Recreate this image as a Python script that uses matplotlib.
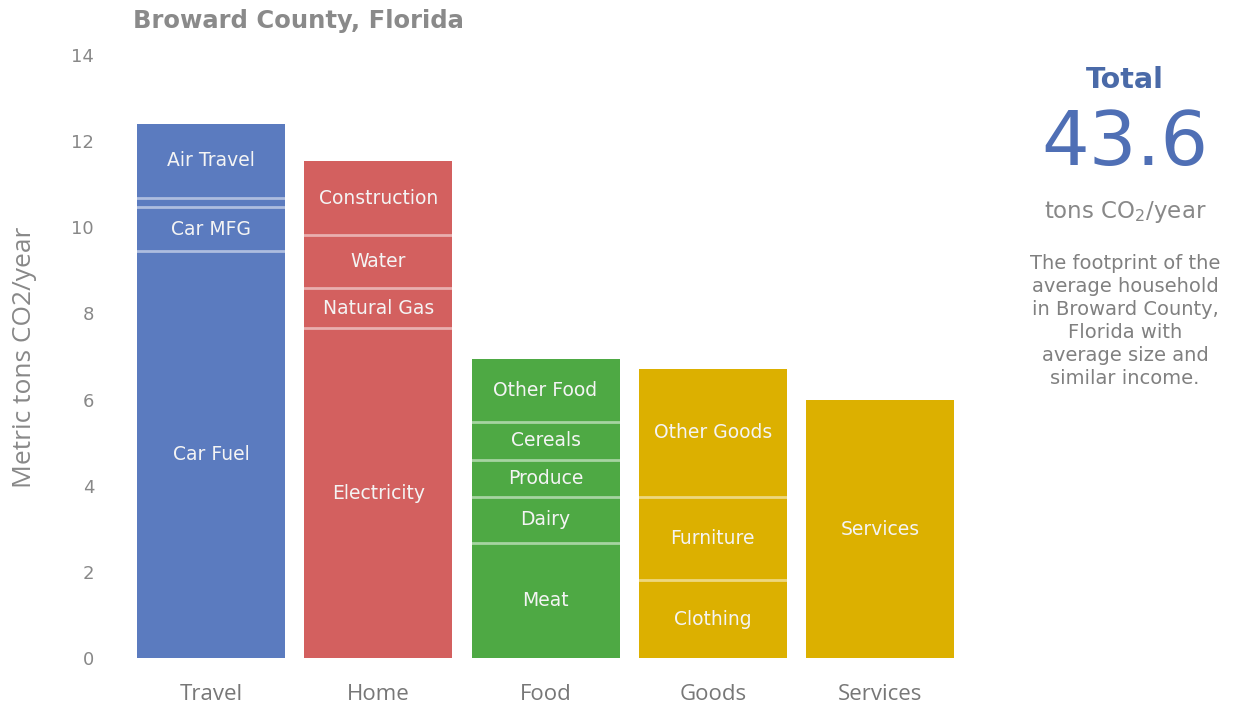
import matplotlib.pyplot as plt
import numpy as np

# data
categories = ['Travel', 'Home', 'Food', 'Goods', 'Services']
travel_parts = ['Car Fuel', 'Car MFG', '', 'Air Travel']
travel_vals = [9.44, 1.03, 0.21, 1.72]
home_parts = ['Electricity', 'Natural Gas', 'Water', 'Construction']
home_vals = [7.66, 0.93, 1.22, 1.74]
food_parts = ['Meat', 'Dairy', 'Produce', 'Cereals', 'Other Food']
food_vals = [2.68, 1.05, 0.87, 0.89, 1.46]
goods_parts = ['Clothing', 'Furniture', 'Other Goods']
goods_vals = [1.80, 1.94, 2.98]
services_parts = ['Services']
services_vals = [5.98]
total = '43.6'

parts = [travel_parts, home_parts, food_parts, goods_parts, services_parts]
vals = [travel_vals, home_vals, food_vals, goods_vals, services_vals]
colors = ['#5b7bbf', '#d3605f', '#4ea944', '#dcb000', '#dcb000']

fig = plt.figure(figsize=(12.41, 7.10), dpi=100)
ax = fig.add_axes([0.1027, 0.0732, 0.6738, 0.8493])

w = 0.885
for i, (names, vs) in enumerate(zip(parts, vals)):
    b = 0
    for name, v in zip(names, vs):
        ax.bar(i, v, bottom=b, width=w, color=colors[i], linewidth=0)
        if b > 0:
            ax.plot([i - w / 2, i + w / 2], [b, b], color='white', alpha=0.5, lw=2)
        if name:
            ax.text(i, b + v / 2, name, ha='center', va='center', fontsize=13.5,
                    color='#f4f4f4', family='DejaVu Sans')
        b += v

ax.set_xlim(-0.5, 4.5)
ax.set_ylim(0, 14)
ax.set_yticks(np.arange(0, 15, 2))
ax.set_xticks(range(len(categories)))
ax.set_xticklabels(categories, fontsize=16, color='#777777', family='Open Sans')
ax.tick_params(axis='y', length=0, pad=24, labelsize=13, labelcolor='#888888')
ax.tick_params(axis='x', length=0, pad=19)
for s in ax.spines.values():
    s.set_visible(False)

fig.text(0.02, 0.497, 'Metric tons CO2/year', rotation=90, ha='center', va='center',
         fontsize=19, color='#888888', family='Open Sans')
fig.text(0.107, 0.970, 'Broward County, Florida', ha='left', va='center',
         fontsize=17.5, fontweight='bold', color='#8a8a8a')

# right panel
fig.text(0.9065, 0.887, 'Total', ha='center', va='center', fontsize=20.5,
         fontweight='bold', color='#4a6aa8')
fig.text(0.9065, 0.796, total, ha='center', va='center', fontsize=54, color='#4f6fb5')
fig.text(0.9065, 0.701, 'tons CO$_2$/year', ha='center', va='center', fontsize=16.5,
         color='#888888')
fig.text(0.9065, 0.548, 'The footprint of the\naverage household\nin Broward County,\n'
         'Florida with\naverage size and\nsimilar income.', ha='center', va='center',
         fontsize=14, color='#808080', linespacing=1.26)

fig.savefig('out.png', dpi=100)
